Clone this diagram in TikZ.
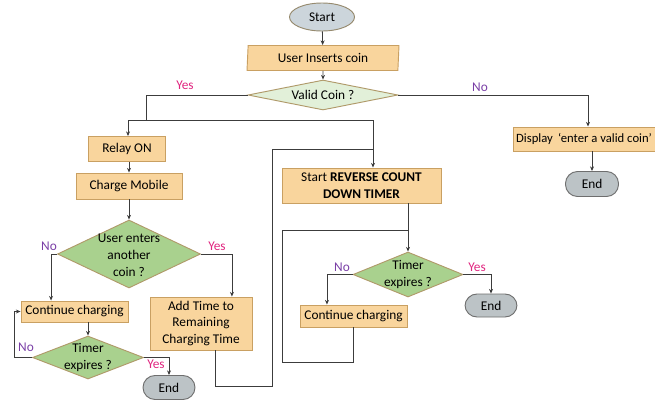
\documentclass[tikz,border=0pt]{standalone}
\usepackage{fontspec}
\setmainfont{Carlito}
\usetikzlibrary{shapes.geometric,arrows.meta}

\definecolor{boxfill}{HTML}{F9D59D}
\definecolor{boxline}{HTML}{C9A062}
\definecolor{decdark}{HTML}{A9D18E}
\definecolor{declight}{HTML}{E2F0D9}
\definecolor{decline}{HTML}{B09A6A}
\definecolor{endfill}{HTML}{BCC3C6}
\definecolor{endline}{HTML}{6E6E6E}
\definecolor{startfill}{HTML}{CCD5DB}
\definecolor{startline}{HTML}{968A6E}
\definecolor{yescol}{HTML}{E0257F}
\definecolor{nocol}{HTML}{7A3FA6}
\definecolor{wirecol}{HTML}{3C3C3C}

\tikzset{
  sz/.style 2 args={minimum width=#1*0.75pt, minimum height=#2*0.75pt},
  proc/.style={rectangle, draw=boxline, fill=boxfill, line width=0.7pt,
    inner sep=0pt, align=center},
  inout/.style={trapezium, trapezium left angle=83, trapezium right angle=97,
    trapezium stretches body, draw=boxline, fill=boxfill, line width=0.7pt,
    inner sep=0pt},
  declt/.style={diamond, draw=decline, fill=declight, line width=0.7pt, inner sep=0pt},
  decdk/.style={diamond, draw=decline, fill=decdark, line width=0.7pt, inner sep=0pt},
  term/.style={rectangle, rounded corners=9pt, draw=endline, fill=endfill,
    line width=0.7pt, inner sep=0pt},
  startnode/.style={ellipse, draw=startline, fill=startfill, line width=0.7pt,
    inner sep=0pt},
  dtext/.style={align=center, inner sep=0pt},
  wire/.style={draw=wirecol, line width=0.6pt},
  arr/.style={wire, -{Stealth[length=3.5pt,width=3pt]}},
  yes/.style={text=yescol, inner sep=0pt},
  no/.style={text=nocol, inner sep=0pt},
}

\begin{document}
\begin{tikzpicture}[x=0.75pt, y=-0.75pt, font=\fontsize{10}{12.6}\selectfont]
\useasboundingbox (0,0) rectangle (655,400);
\clip (0,0) rectangle (655,400);

% main column
\node[startnode, sz={65}{28}] (start) at (322,17) {Start};
\node[inout, sz={152}{25}] (insert) at (323,58) {User Inserts coin};
\node[declt, sz={150}{30}] (valid) at (323,95) {};
\node[dtext] (validtxt) at (valid.center) {Valid Coin ?};

% invalid coin branch (box runs past the right edge)
\node[proc, sz={150}{24}, font=\fontsize{9.5}{11}\selectfont] (display) at (588,139)
  {\hspace*{-6pt}Display\hspace{4pt}‘enter a valid coin’};
\node[term, sz={53}{25}] (end1) at (592,184) {End};

% charging branch
\node[proc, sz={77}{25}] (relay) at (127,149) {Relay ON};
\node[proc, sz={106}{26}] (charge) at (129,186) {Charge Mobile};
\node[decdk, sz={143}{68}] (another) at (129,254) {};
\node[dtext] (anothertxt) at ([yshift=-1pt]another.center) {User enters\\another\\coin ?};
\node[proc, sz={107}{21}] (cont1) at (74.5,311.5) {Continue charging};
\node[decdk, sz={111}{43}] (timer1) at (88,357.5) {};
\node[dtext] (timer1txt) at (timer1.center) {Timer\\expires ?};
\node[term, sz={52}{24}] (end2) at (169,387.5) {End};
\node[proc, sz={102}{53}] (addtime) at (201,323.5) {Add Time to\\Remaining\\Charging Time};

% countdown branch
\node[proc, sz={159}{35}] (reverse) at (361.5,185.5) {Start \textbf{REVERSE COUNT}\\\textbf{DOWN TIMER}};
\node[decdk, sz={110}{45}] (timer2) at (408,274.5) {};
\node[dtext] (timer2txt) at (timer2.center) {Timer\\expires ?};
\node[term, sz={52}{23}] (end3) at (491,305.5) {End};
\node[proc, sz={107}{22}] (cont2) at (353.5,316) {Continue charging};

% routing points
\coordinate (ysplit) at (146,120);
\coordinate (lcorner) at (128,120);
\coordinate (rcorner) at (373,120);
\coordinate (loopA) at (272,386);
\coordinate (loopB) at (272,149);
\coordinate (loopC) at (373,149);
\coordinate (loopD) at (282,362);
\coordinate (loopE) at (282,230);

% connectors
\draw[arr] (start) -- (insert);
\draw[arr] (insert) -- (valid);
\draw[wire] (valid.west) -| (ysplit);
\draw[arr] (ysplit) -- (lcorner) -- (lcorner |- relay.north);
\draw[arr] (ysplit) -- (rcorner) -- (rcorner |- reverse.north);
\draw[arr] (valid.east) -| (display.north);
\draw[arr] (end1.north |- display.south) -- (end1.north);

\draw[arr] (relay.south -| charge.north) -- (charge.north);
\draw[arr] (charge) -- (another);
\draw[arr] (another.west) -| ([xshift=-17.6pt]cont1.north);
\draw[arr] (another.east) -| ([xshift=23.2pt]addtime.north);
\draw[arr] (timer1.north |- cont1.south) -- (timer1.north);
\draw[arr] (timer1.west) -- ++(-13.5pt,0) |- (cont1.west);
\draw[arr] (timer1.east) -| (end2.north);
\draw[wire] ([xshift=10.5pt]addtime.south) |- (loopA) -- (loopB) -- (loopC);

\draw[arr] (timer2.north |- reverse.south) -- (timer2.north);
\draw[wire] (cont2.south) |- (loopD) -- (loopE) -- (timer2.north |- loopE);
\draw[arr] (timer2.west) -| ([xshift=-19.9pt]cont2.north);
\draw[arr] (timer2.east) -| (end3.north);

% branch labels
\node[yes] (yes1) at (185,85) {Yes};
\node[no] (no1) at (480,87) {No};
\node[no] (no2) at (49,246) {No};
\node[yes] (yes2) at (217,246) {Yes};
\node[no] (no3) at (26,347) {No};
\node[yes] (yes3) at (156,364) {Yes};
\node[no] (no4) at (342,267) {No};
\node[yes] (yes4) at (477,267) {Yes};
\end{tikzpicture}
\end{document}
